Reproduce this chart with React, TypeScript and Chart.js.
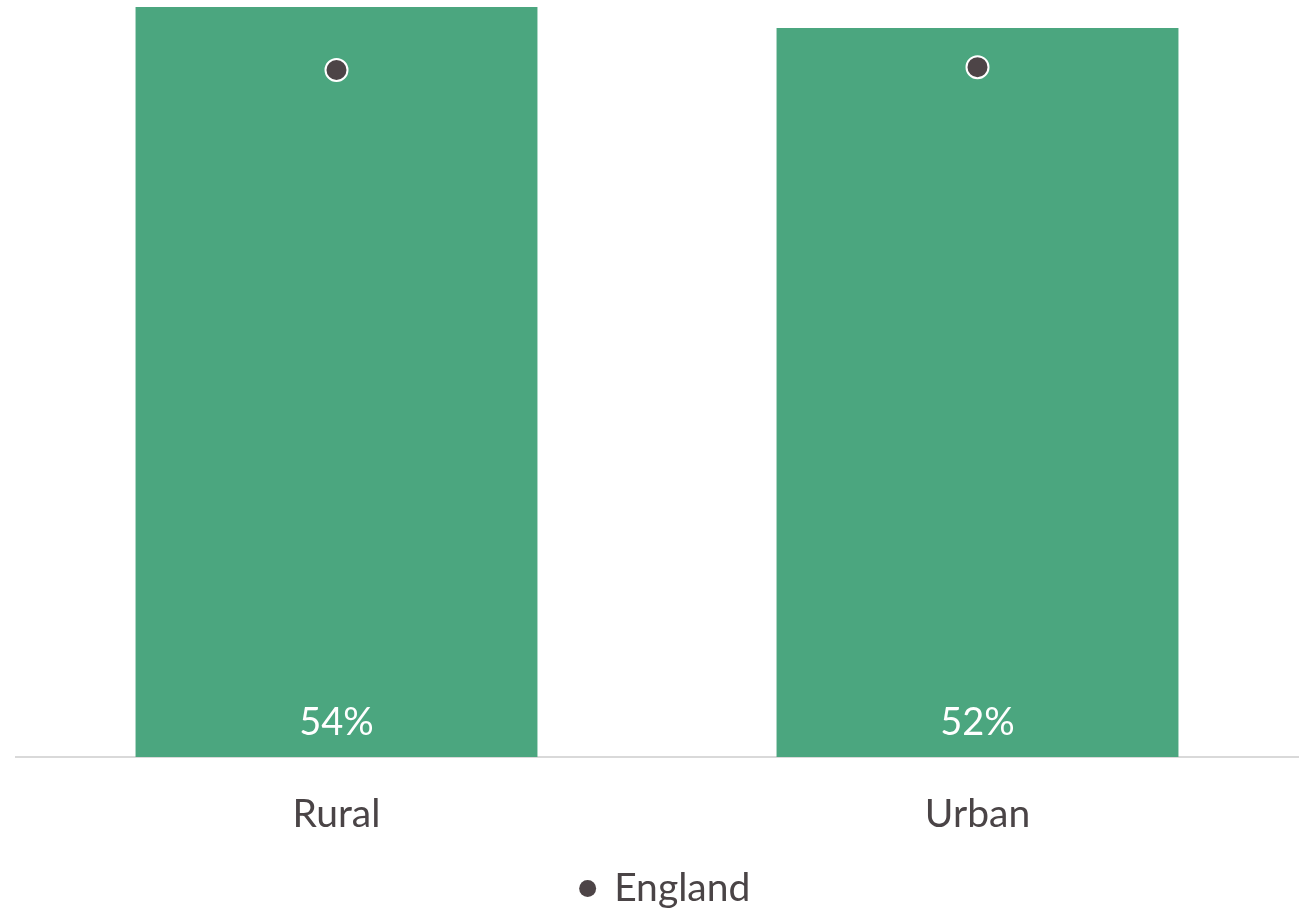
import React, { useEffect, useRef } from "react";
import { Chart, registerables } from "chart.js";

Chart.register(...registerables);

const categories = ["Rural", "Urban"];
const areaValues = [53.6, 52.1];
const englandValues = [49.1, 49.3];
const valueLabels = ["54%", "52%"];
const legendLabel = "England";

const GREEN = "rgb(75,166,127)";
const DARK = "#4d4447";
const TEXT = "#4a4446";
const FONT = "Lato, 'Open Sans', sans-serif";

const barLabelPlugin = {
  id: "barLabels",
  afterDatasetsDraw(chart: any) {
    const meta = chart.getDatasetMeta(0);
    const ctx = chart.ctx;
    ctx.save();
    ctx.fillStyle = "#ffffff";
    ctx.font = `38px ${FONT}`;
    ctx.textAlign = "center";
    ctx.textBaseline = "middle";
    meta.data.forEach((el: any, i: number) => {
      ctx.fillText(valueLabels[i], el.x, chart.chartArea.bottom - 34);
    });
    ctx.restore();
  },
};

export default function App() {
  const ref = useRef<HTMLCanvasElement>(null);
  useEffect(() => {
    if (!ref.current) return;
    const chart = new Chart(ref.current, {
      type: "bar",
      data: {
        labels: categories,
        datasets: [
          {
            type: "bar",
            label: "Area",
            data: areaValues,
            backgroundColor: GREEN,
            borderWidth: 0,
            categoryPercentage: 1,
            barPercentage: 0.627,
            order: 1,
          },
          {
            type: "line",
            label: legendLabel,
            data: englandValues,
            showLine: false,
            pointRadius: 11,
            pointHoverRadius: 11,
            pointBorderWidth: 2,
            pointBorderColor: "#ffffff",
            pointBackgroundColor: DARK,
            backgroundColor: DARK,
            borderColor: "#ffffff",
            clip: false,
            order: 0,
          },
        ] as any,
      },
      options: {
        animation: false,
        responsive: true,
        maintainAspectRatio: false,
        layout: { autoPadding: false, padding: { top: 7, left: 0, right: 0, bottom: 0 } },
        scales: {
          y: {
            display: true,
            position: "left",
            min: 0,
            max: 53.6,
            grid: { display: false, drawTicks: false },
            border: { display: false },
            ticks: { display: false },
            afterFit: (scale: any) => {
              scale.width = 16;
            },
          },
          yRight: {
            display: true,
            position: "right",
            min: 0,
            max: 53.6,
            grid: { display: false, drawTicks: false },
            border: { display: false },
            ticks: { display: false },
            afterFit: (scale: any) => {
              scale.width = 33;
            },
          },
          x: {
            grid: { display: false, drawTicks: false },
            border: { display: true, color: "#d9d9d9", width: 2 },
            ticks: {
              color: TEXT,
              padding: 39.5,
              font: { family: FONT, size: 39, lineHeight: 0.9 },
            },
          },
        },
        plugins: {
          tooltip: { enabled: false },
          legend: {
            position: "bottom",
            labels: {
              filter: (item: any) => item.datasetIndex === 1,
              usePointStyle: true,
              pointStyle: "circle",
              boxWidth: 14,
              boxHeight: 12,
              padding: -2,
              color: TEXT,
              font: { family: FONT, size: 39 },
              generateLabels: (chart: any) => {
                const items = Chart.defaults.plugins.legend.labels.generateLabels(chart);
                return items.map((it: any) => ({
                  ...it,
                  fillStyle: DARK,
                  strokeStyle: DARK,
                  lineWidth: 0,
                  pointStyle: "circle",
                }));
              },
            },
          },
        },
      },
      plugins: [barLabelPlugin],
    });
    return () => chart.destroy();
  }, []);

  return (
    <div
      style={{
        position: "fixed",
        left: 0,
        top: 0,
        width: 1304,
        height: 909,
        overflow: "hidden",
        background: "#ffffff",
      }}
    >
      <div style={{ position: "relative", width: 1331, height: 918 }}>
        <canvas ref={ref} />
      </div>
    </div>
  );
}
